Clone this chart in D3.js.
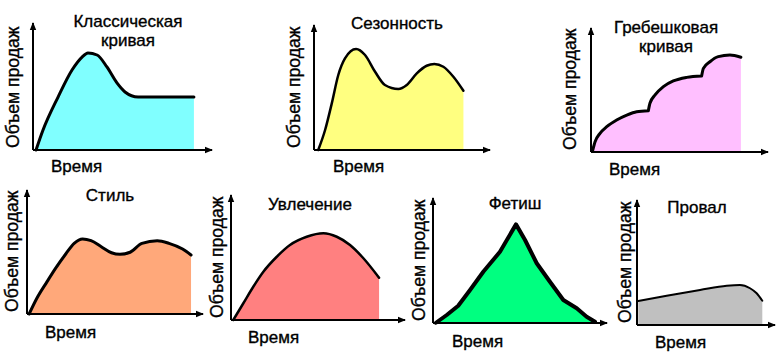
<!DOCTYPE html>
<meta charset="utf-8">
<style>
body { margin: 0; background: #fff; }
svg text {
  font-family: "Liberation Sans", Arial, sans-serif;
  font-size: 17px;
  fill: #000;
  stroke: #000;
  stroke-width: 0.35px;
}
svg text.ylabel { font-size: 17.6px; }
.curve { fill: none; stroke: #000; stroke-linejoin: round; stroke-linecap: round; }
.axis { stroke: #000; stroke-width: 2px; }
</style>
<svg width="779" height="353"></svg>
<script src="https://d3js.org/d3.v7.min.js"></script>
<script>

// подписи
var titles = [
  ["Классическая", "кривая"],
  ["Сезонность"],
  ["Гребешковая", "кривая"],
  ["Стиль"],
  ["Увлечение"],
  ["Фетиш"],
  ["Провал"]
];
var xLabel = "Время";
var yLabel = "Объем продаж";

// кривые: [время, объем], обе оси 0..100
var classic = [[[1.7,0],[5.6,15.7],[14,41.7],[21.8,63],[27.4,73.2],[30.7,76.4],[35.8,74.8],[41.3,65.4],[46.9,52.8],[51.4,45.7],[58.7,41.7],[89.9,41.7]]];

var season = [[[2.4,0],[6.3,16],[10.1,37.3],[13.8,60],[17.6,73.3],[23.9,80.8],[29,76],[34.7,62.6],[40.3,52],[47.9,48.8],[52.7,52],[58.4,61.3],[64,67.4],[68.4,68.8],[73.5,66.6],[79.2,58.6],[84.9,47.4]]];

var scallop = [
  [[1,1.6],[2.3,8.3],[5.1,15.1],[8.9,20.4],[14.5,25.8],[20.2,29.8],[25.8,32.5],[32.4,33.3]],
  [[32.4,33.3],[33.3,39.3],[36.2,46],[40.9,52.7],[46.5,57.3],[54.1,60.2],[62.5,61.3]],
  [[62.5,61.3],[63.5,67.5],[67.2,72.8],[71.9,76.9],[78.5,78.2],[84.7,76.4]]
];

var style = [[[1.2,0],[5.6,12.7],[11.4,26.1],[16.2,36.8],[22,48.4],[26.8,57],[31.6,60.5],[36.4,59.1],[42.2,54.3],[48,49.4],[52.8,48.1],[58.6,49.8],[65.3,57],[74,59.1],[80.7,57],[88.4,52.4],[93.2,47.6]]];

var fad = [[[1.3,0],[7.1,13.4],[12.8,26.6],[18.6,38.6],[26.3,50.6],[33.9,60],[43.5,66.6],[53.1,69.4],[60.8,66.6],[68.4,60],[76.1,49.4],[85.1,33.8]]];

var fetish = [[[1.7,0.2],[7.9,6.4],[14.5,13.8],[21.3,26.4],[28.9,41],[38.5,57],[47.7,78.9],[52.9,66.4],[59.6,47.8],[67.2,33],[74.9,18.4],[82.6,11.8],[88.3,5],[93.1,1]]];

var flop = [[[0.9,19.2],[21.5,23.4],[45.7,28],[65,31.4],[74.6,32],[81.9,29.4],[86.7,25.4],[90.8,19.4]]];

var series = [classic, season, scallop, style, fad, fetish, flop];

// расположение графиков
var panels = [
  {x0: 33,  y0: 150, xEnd: 212, yTop: 23,  fill: "#80ffff", sw: 3,   curve: d3.curveMonotoneX, tx: 128, ty: 27, lx: 51,  ly: 172, yl: -14.5},
  {x0: 314, y0: 150, xEnd: 490, yTop: 25,  fill: "#ffff80", sw: 2.5, curve: d3.curveMonotoneX, tx: 397, ty: 29, lx: 333, ly: 172, yl: -14},
  {x0: 591, y0: 152, xEnd: 768, yTop: 28,  fill: "#ffbfff", sw: 3,   curve: d3.curveMonotoneX, tx: 666, ty: 33, lx: 609, ly: 175, yl: -15},
  {x0: 27,  y0: 314, xEnd: 203, yTop: 190, fill: "#ffa87a", sw: 3,   curve: d3.curveMonotoneX, tx: 110, ty: 201, lx: 45, ly: 338, yl: -9},
  {x0: 231, y0: 320, xEnd: 405, yTop: 195, fill: "#ff8080", sw: 2.5, curve: d3.curveMonotoneX, tx: 310, ty: 210, lx: 248, ly: 343, yl: -8},
  {x0: 433, y0: 323, xEnd: 607, yTop: 198, fill: "#00ff80", sw: 4,   curve: d3.curveLinear,    tx: 515, ty: 209, lx: 452, ly: 347, yl: -8},
  {x0: 637, y0: 325, xEnd: 775, yTop: 200, fill: "#c0c0c0", sw: 2,   curve: d3.curveMonotoneX, tx: 697, ty: 213, lx: 655, ly: 348, yl: -6}
];

var svg = d3.select("svg");

// стрелка для осей
svg.append("defs").append("marker")
    .attr("id", "arrow")
    .attr("markerUnits", "userSpaceOnUse")
    .attr("viewBox", "0 -4 8 8")
    .attr("refX", 7)
    .attr("refY", 0)
    .attr("markerWidth", 8)
    .attr("markerHeight", 8)
    .attr("orient", "auto")
  .append("path")
    .attr("d", "M0,-3.2L8,0L0,3.2Z")
    .attr("fill", "#000");

panels.forEach(function(p, i) {
  var x = d3.scaleLinear().domain([0, 100]).range([p.x0, p.xEnd]);
  var y = d3.scaleLinear().domain([0, 100]).range([p.y0, p.yTop]);
  var g = svg.append("g");

  var line = d3.line()
      .x(function(d) { return x(d[0]); })
      .y(function(d) { return y(d[1]); })
      .curve(p.curve);

  var segs = series[i];
  var path = segs.map(function(s, k) {
    var d = line(s);
    return k ? d.replace(/^M/, "L") : d;
  }).join("");
  var first = segs[0][0];
  var lastSeg = segs[segs.length - 1];
  var last = lastSeg[lastSeg.length - 1];

  // заливка под кривой
  g.append("path")
      .attr("d", path + "L" + x(last[0]) + "," + y(0) + "L" + x(first[0]) + "," + y(0) + "Z")
      .attr("fill", p.fill);

  g.append("path")
      .attr("class", "curve")
      .attr("d", path)
      .attr("stroke-width", p.sw);

  // оси
  g.append("line")
      .attr("class", "axis")
      .attr("x1", x(0)).attr("y1", y(0))
      .attr("x2", x(100)).attr("y2", y(0))
      .attr("marker-end", "url(#arrow)");
  g.append("line")
      .attr("class", "axis")
      .attr("x1", x(0)).attr("y1", y(0))
      .attr("x2", x(0)).attr("y2", y(100))
      .attr("marker-end", "url(#arrow)");

  // заголовок
  g.selectAll("text.title")
      .data(titles[i])
      .enter().append("text")
      .attr("class", "title")
      .attr("text-anchor", "middle")
      .attr("x", p.tx)
      .attr("y", function(d, k) { return p.ty + k * 19; })
      .text(function(d) { return d; });

  g.append("text")
      .attr("x", p.lx)
      .attr("y", p.ly)
      .text(xLabel);

  g.append("text")
      .attr("class", "ylabel")
      .attr("transform", "translate(" + (p.x0 + p.yl) + "," + (p.y0 - 2) + ") rotate(-90)")
      .text(yLabel);
});

</script>
